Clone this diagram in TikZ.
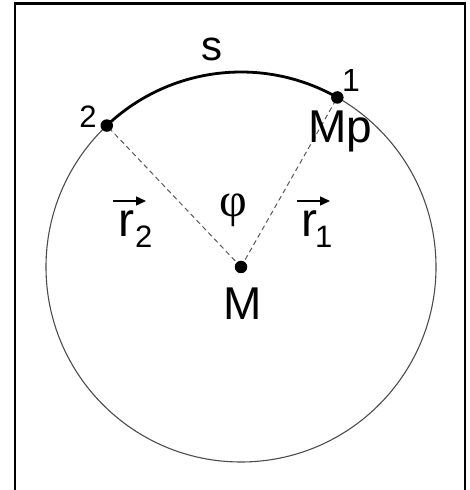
\documentclass[tikz,border=0pt]{standalone}
\usepackage{fontspec}
\setmainfont{Liberation Sans}
\newfontfamily\greekfont{Liberation Serif}
\usetikzlibrary{arrows.meta,backgrounds}
\tikzset{
  dot/.style={circle,fill=black,inner sep=0pt,minimum size=12.5pt},
  lbl/.style={inner sep=0pt,anchor=base,text=black},
  radius line/.style={dashed,dash pattern=on 5pt off 3.5pt,draw=black!65,line width=1pt},
  vecarrow/.style={line width=1.4pt,-{Triangle[length=10pt,width=9pt]}},
}
\begin{document}
\begin{tikzpicture}[x=1pt,y=1pt]
\useasboundingbox (0,0) rectangle (469,490);
% frame
\draw[line width=2.2pt] (15,-5) -- (15,486.5) -- (465,486.5) -- (465,-5);
% centre and points
\coordinate (C) at (241,223);
\path (C) ++(60.4:195) coordinate (P1pos);
\path (C) ++(133.5:195) coordinate (P2pos);
\node[dot] (M) at (C) {};
\node[dot] (P1) at (P1pos) {};
\node[dot] (P2) at (P2pos) {};
\begin{pgfonlayer}{background}
\draw[draw=black!70,line width=1.1pt] (C) circle[radius=195];
\draw[line width=2.8pt] (P2.center) arc[start angle=133.5,end angle=60.4,radius=195];
\draw[radius line] (M.center) -- (P1.center);
\draw[radius line] (M.center) -- (P2.center);
\end{pgfonlayer}
% labels
\node[lbl,font=\fontsize{42}{42}\selectfont] (s) at (212,429) {s};
\node[lbl,font=\fontsize{31}{31}\selectfont] (l2) at (88,362) {2};
\node[lbl,font=\fontsize{32}{32}\selectfont] (l1) at (351,398) {1};
\node[lbl,font=\fontsize{46}{46}\selectfont] (Mp) at (340,347) {Mp};
\node[lbl,font=\fontsize{46}{46}\selectfont] (Ml) at (242.5,170) {M};
\node[inner sep=0pt,font=\greekfont\fontsize{48}{48}\selectfont] (phi) at (233,280) {φ};
% r2
\node[lbl,anchor=base west,font=\fontsize{48}{48}\selectfont] (r2) at (118,253) {r};
\node[lbl,anchor=base west,font=\fontsize{31}{31}\selectfont] (r2s) at (135,242) {2};
\coordinate (a2s) at (113,289);
\coordinate (a2e) at (146,289);
\draw[vecarrow] (a2s) -- (a2e);
% r1
\node[lbl,anchor=base west,font=\fontsize{48}{48}\selectfont] (r1) at (301,253) {r};
\node[lbl,anchor=base west,font=\fontsize{31}{31}\selectfont] (r1s) at (315,242) {1};
\coordinate (a1s) at (297,289);
\coordinate (a1e) at (330,289);
\draw[vecarrow] (a1s) -- (a1e);
\end{tikzpicture}
\end{document}
